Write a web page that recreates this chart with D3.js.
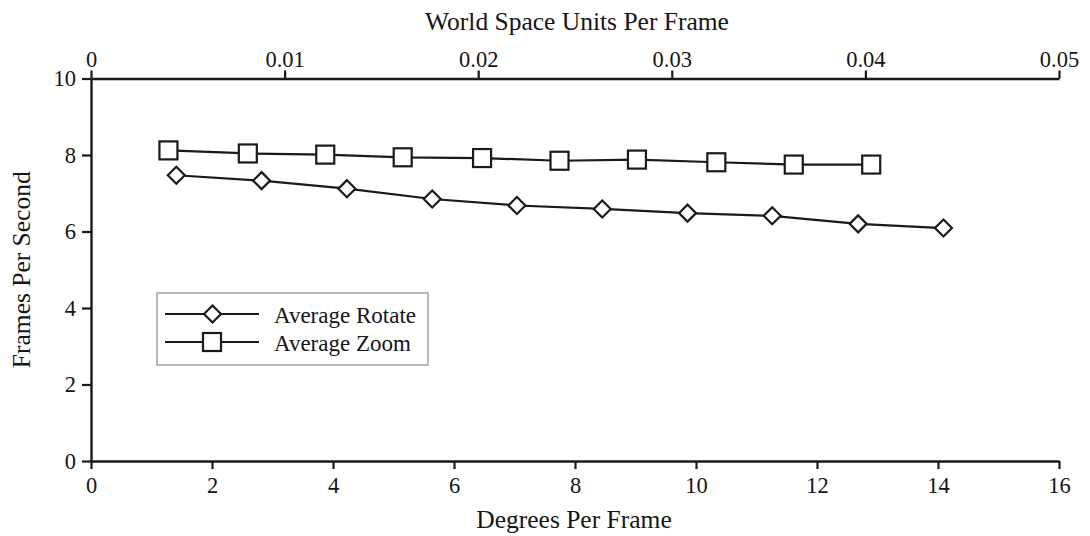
<!DOCTYPE html>
<html>
<head>
<meta charset="utf-8">
<script src="https://cdn.jsdelivr.net/npm/d3@7"></script>
<style>
  html, body { margin: 0; padding: 0; background: #fff; }
  svg { display: block; }
  text { font-family: "Liberation Serif", "Times New Roman", serif; fill: #151515; }
</style>
</head>
<body>
<svg id="chart" width="1090" height="536"></svg>
<script>
// Frame-rate measurements
const rotateDeg  = [1.41, 2.82, 4.23, 5.64, 7.04, 8.45, 9.86, 11.26, 12.68, 14.09];
const rotateFps  = [7.47, 7.33, 7.12, 6.85, 6.68, 6.59, 6.48, 6.41, 6.20, 6.09];
const zoomUnits  = [0.0040, 0.0081, 0.0121, 0.0161, 0.0202, 0.0242, 0.0282, 0.0323, 0.0363, 0.0403];
const zoomFps    = [8.12, 8.04, 8.01, 7.94, 7.92, 7.85, 7.88, 7.81, 7.75, 7.75];

const bottomTicks = [0, 2, 4, 6, 8, 10, 12, 14, 16];
const topTicks    = [0, 0.01, 0.02, 0.03, 0.04, 0.05];
const topTickLabels = ["0", "0.01", "0.02", "0.03", "0.04", "0.05"];
const yTicks      = [0, 2, 4, 6, 8, 10];
const seriesNames = ["Average Rotate", "Average Zoom"];

const ink = "#1a1a1a";
const svg = d3.select("#chart");

const plotLeft = 91, plotRight = 1059, plotTop = 78.5, plotBottom = 461;

const xDeg  = d3.scaleLinear().domain([0, 16]).range([plotLeft, plotRight]);
const xUnit = d3.scaleLinear().domain([0, 0.05]).range([plotLeft, plotRight]);
const y     = d3.scaleLinear().domain([0, 10]).range([plotBottom, plotTop]);

function styleAxis(g) {
  g.selectAll("path.domain").attr("stroke", ink).attr("stroke-width", 2.4);
  g.selectAll(".tick line").attr("stroke", ink).attr("stroke-width", 2.2);
  g.selectAll(".tick text").style("font-size", "22.5px").attr("fill", "#151515");
}

// Bottom axis (degrees)
svg.append("g")
  .attr("transform", `translate(0,${plotBottom})`)
  .call(d3.axisBottom(xDeg).tickValues(bottomTicks).tickFormat(d3.format("d"))
        .tickSizeInner(8).tickSizeOuter(0).tickPadding(8))
  .call(styleAxis);

// Top axis (world units)
svg.append("g")
  .attr("transform", `translate(0,${plotTop})`)
  .call(d3.axisTop(xUnit).tickValues(topTicks).tickFormat((d, i) => topTickLabels[i])
        .tickSizeInner(8).tickSizeOuter(0).tickPadding(4))
  .call(styleAxis);

// Left axis
svg.append("g")
  .attr("transform", `translate(${plotLeft},0)`)
  .call(d3.axisLeft(y).tickValues(yTicks).tickFormat(d3.format("d"))
        .tickSizeInner(9).tickSizeOuter(0).tickPadding(6))
  .call(styleAxis);

// Axis titles
svg.append("text")
  .attr("x", (plotLeft + plotRight) / 2 + 2).attr("y", 30)
  .attr("text-anchor", "middle").style("font-size", "25.5px")
  .text("World Space Units Per Frame");

svg.append("text")
  .attr("x", (plotLeft + plotRight) / 2 - 1).attr("y", 528)
  .attr("text-anchor", "middle").style("font-size", "25.5px")
  .text("Degrees Per Frame");

svg.append("text")
  .attr("transform", `translate(30,${(plotTop + plotBottom) / 2}) rotate(-90)`)
  .attr("text-anchor", "middle").style("font-size", "25.5px")
  .text("Frames Per Second");

// Marker shapes
const diamondPath = (cx, cy, r) => `M${cx},${cy - r}L${cx + r},${cy}L${cx},${cy + r}L${cx - r},${cy}Z`;
const sq = 18;

const rotatePts = rotateDeg.map((d, i) => [xDeg(d), y(rotateFps[i])]);
const zoomPts   = zoomUnits.map((d, i) => [xUnit(d), y(zoomFps[i])]);

const line = d3.line();

svg.append("path").attr("d", line(zoomPts))
  .attr("fill", "none").attr("stroke", ink).attr("stroke-width", 2.2);
svg.append("path").attr("d", line(rotatePts))
  .attr("fill", "none").attr("stroke", ink).attr("stroke-width", 2.2);

svg.append("g").selectAll("rect").data(zoomPts).join("rect")
  .attr("x", d => d[0] - sq / 2).attr("y", d => d[1] - sq / 2)
  .attr("width", sq).attr("height", sq)
  .attr("fill", "#fff").attr("stroke", ink).attr("stroke-width", 2.2);

svg.append("g").selectAll("path").data(rotatePts).join("path")
  .attr("d", d => diamondPath(d[0], d[1], 8.5))
  .attr("fill", "#fff").attr("stroke", ink).attr("stroke-width", 2.2);

// Legend
const lg = svg.append("g");
lg.append("rect")
  .attr("x", 157).attr("y", 293).attr("width", 271).attr("height", 72)
  .attr("fill", "#fff").attr("stroke", "#8a8a8a").attr("stroke-width", 1.2);

const rowY = [314, 342];
seriesNames.forEach((name, i) => {
  lg.append("line")
    .attr("x1", 165).attr("x2", 259).attr("y1", rowY[i]).attr("y2", rowY[i])
    .attr("stroke", ink).attr("stroke-width", 2.2);
  if (i === 0) {
    lg.append("path").attr("d", diamondPath(212.5, rowY[i], 8.5))
      .attr("fill", "#fff").attr("stroke", ink).attr("stroke-width", 2.2);
  } else {
    lg.append("rect")
      .attr("x", 212 - sq / 2).attr("y", rowY[i] - sq / 2).attr("width", sq).attr("height", sq)
      .attr("fill", "#fff").attr("stroke", ink).attr("stroke-width", 2.2);
  }
  lg.append("text")
    .attr("x", 274).attr("y", rowY[i] + 9)
    .style("font-size", "23px")
    .text(name);
});
</script>
</body>
</html>
